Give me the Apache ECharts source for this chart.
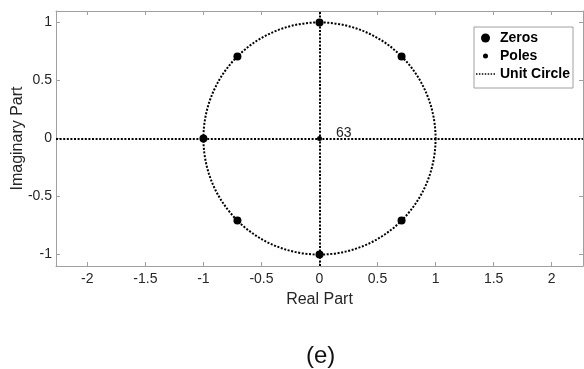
<!DOCTYPE html>
<html>
<head>
<meta charset="utf-8">
<script src="https://cdn.jsdelivr.net/npm/echarts@6/dist/echarts.min.js"></script>
<style>
    html, body { margin: 0; padding: 0; background: #fff; }
    #zplane { width: 584px; height: 369px; }
</style>
</head>
<body>
<div id="zplane"></div>
<script>
// zeros (real / imaginary parts)
var zeroRe = [0.707, 0, -0.707, -1, -0.707, 0, 0.707];
var zeroIm = [0.707, 1, 0.707, 0, -0.707, -1, -0.707];
// pole at origin, multiplicity 63
var poleRe = [0];
var poleIm = [0];
var poleCount = ['63'];
// unit circle: centre x, centre y, radius
var unitCircle = [[0, 0, 1]];

var xRange = [-2.27, 2.27];
var yRange = [-1.1, 1.1];

(function(){
    var chart = echarts.init(document.getElementById('zplane'));
    var font = 'Liberation Sans, Arial, sans-serif';
    var axisGray = '#a0a0a0';
    var txt = '#262626';

    var zeros = [];
    for (var i = 0; i < zeroRe.length; i++) zeros.push([zeroRe[i], zeroIm[i]]);
    var poles = [];
    for (var j = 0; j < poleRe.length; j++) poles.push({value: [poleRe[j], poleIm[j]], count: poleCount[j]});

    // dotted legend icon
    var dots = 'path://';
    for (var k = 0; k < 7; k++) dots += 'M' + (k * 3) + ',0h1.5v1.5h-1.5z';

    function xAx(pos, show){
        return {
            type: 'value', position: pos, min: xRange[0], max: xRange[1],
            splitNumber: 9, minInterval: 0.5, maxInterval: 0.5,
            axisLine: {show: true, onZero: false, lineStyle: {color: axisGray}},
            axisTick: {show: true, inside: true, length: 4, lineStyle: {color: axisGray}},
            axisLabel: {show: show, showMinLabel: false, showMaxLabel: false, color: txt, fontSize: 14, fontFamily: font, margin: 6},
            splitLine: {show: false},
            name: show ? 'Real Part' : '', nameLocation: 'middle', nameGap: 26, nameMoveOverlap: false,
            nameTextStyle: {color: txt, fontSize: 16, fontFamily: font}
        };
    }
    function yAx(pos, show){
        return {
            type: 'value', position: pos, min: yRange[0], max: yRange[1],
            splitNumber: 4, minInterval: 0.5, maxInterval: 0.5,
            axisLine: {show: true, onZero: false, lineStyle: {color: axisGray}},
            axisTick: {show: true, inside: true, length: 4, lineStyle: {color: axisGray}},
            axisLabel: {show: show, showMinLabel: false, showMaxLabel: false, color: txt, fontSize: 14, fontFamily: font, margin: 4},
            splitLine: {show: false},
            name: show ? 'Imaginary Part' : '', nameLocation: 'middle', nameGap: 30, nameMoveOverlap: false,
            nameTextStyle: {color: txt, fontSize: 16, fontFamily: font}
        };
    }

    var option = {
        animation: false,
        backgroundColor: '#fff',
        title: {
            text: '(e)', left: 306, top: 344, padding: 0,
            textStyle: {color: '#111', fontSize: 24, fontWeight: 'normal', fontFamily: font}
        },
        grid: {left: 56, right: 1, top: 11, bottom: 103, containLabel: false, outerBoundsMode: 'none'},
        legend: {
            orient: 'vertical', left: 474, top: 27,
            padding: [4, 3, 7, 2], itemGap: 4, itemWidth: 19, itemHeight: 9,
            backgroundColor: '#fff', borderColor: '#a0a0a0', borderWidth: 1,
            textStyle: {color: '#000', fontSize: 14, fontWeight: 'bold', fontFamily: font, lineHeight: 14},
            data: [
                {name: 'Zeros', icon: 'circle', itemStyle: {color: '#000', borderWidth: 0}},
                {name: 'Poles', icon: 'circle', itemStyle: {color: '#000', borderColor: '#fff', borderWidth: 4}},
                {name: 'Unit Circle', icon: dots, itemStyle: {color: '#000', borderWidth: 0}}
            ]
        },
        xAxis: [xAx('bottom', true), xAx('top', false)],
        yAxis: [yAx('left', true), yAx('right', false)],
        series: [
            {
                name: 'Unit Circle',
                type: 'custom',
                silent: true,
                z: 1,
                itemStyle: {color: '#000'},
                renderItem: function(params, api){
                    var c = api.coord([api.value(0), api.value(1)]);
                    var r = api.size([api.value(2), 0])[0];
                    return {
                        type: 'circle',
                        shape: {cx: c[0], cy: c[1], r: r},
                        style: {fill: 'none', stroke: '#000', lineWidth: 2, lineDash: [2, 1.6]}
                    };
                },
                data: unitCircle,
                markLine: {
                    silent: true,
                    symbol: 'none',
                    label: {show: false},
                    lineStyle: {color: '#000', width: 2, type: [2, 1.6]},
                    data: [{yAxis: 0}, {xAxis: 0}]
                }
            },
            {
                name: 'Zeros',
                type: 'scatter',
                z: 5,
                symbol: 'circle',
                symbolSize: 8,
                itemStyle: {color: '#000', opacity: 1},
                data: zeros
            },
            {
                name: 'Poles',
                type: 'scatter',
                z: 5,
                symbol: 'circle',
                symbolSize: 5,
                itemStyle: {color: '#000', opacity: 1},
                label: {
                    show: true, position: 'right', offset: [9, -5],
                    color: txt, fontSize: 14, fontFamily: font,
                    formatter: function(p){ return p.data.count; }
                },
                data: poles
            }
        ]
    };

    chart.setOption(option);
})();
</script>
</body>
</html>
